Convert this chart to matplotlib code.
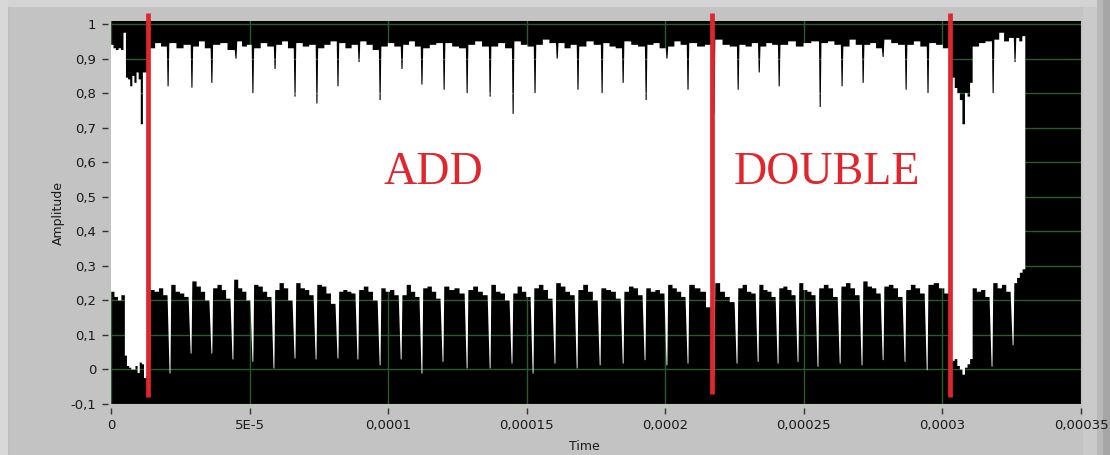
import numpy as np
import matplotlib
matplotlib.use("Agg")
import matplotlib.pyplot as plt
from matplotlib.patches import Rectangle

# ---------------- data (time in microseconds) ----------------
t_end_us = 329.9

# lower edge of the trace: narrow dips (centre, floor value)
low_dip_us = [21.3, 28.9, 36.4, 44.0, 51.2, 58.8, 66.4, 74.0, 81.9, 89.1, 97.1, 104.7,
              112.2, 119.8, 128.5, 136.8, 144.7, 152.3, 160.2, 168.2, 176.5, 184.8, 192.7,
              200.6, 208.2, 217.6, 225.9, 233.5, 240.7, 247.9, 255.1, 263.1, 271.0, 278.6,
              286.5, 294.5, 317.9, 325.5]
low_dip_val = [-0.012, 0.046, 0.046, 0.029, 0.022, 0.003, 0.032, 0.029, 0.032, 0.029, 0.012, 0.029,
               -0.012, 0.022, 0.003, 0.003, 0.017, -0.012, 0.017, 0.003, 0.012, 0.017, 0.027,
               0.012, 0.017, -0.02, 0.017, 0.022, 0.017, 0.022, 0.008, 0.017, 0.012, 0.027,
               0.022, -0.002, 0.008, 0.07]
# stretches where the lower edge sits near zero
low_floor_us = [(5.0, 14.2), (302.6, 310.9)]
low_floor_val = [[0.04, 0.01, 0.005, 0.0, 0.0, 0.01, -0.01, 0.02, 0.015, -0.025, -0.02, 0.02],
                 [0.02, 0.025, 0.03, 0.01, 0.0, -0.015, 0.005, 0.015, 0.03]]
# level of the lower edge on each stretch between the features above
low_level = [
    [0.225, 0.21, 0.2, 0.215],
    [0.23, 0.225, 0.235, 0.215],
    [0.245, 0.225, 0.22, 0.21],
    [0.255, 0.24, 0.225, 0.2],
    [0.235, 0.245, 0.23, 0.205],
    [0.26, 0.235, 0.225, 0.2],
    [0.245, 0.24, 0.225, 0.21],
    [0.23, 0.25, 0.235, 0.2],
    [0.25, 0.235, 0.23, 0.215],
    [0.245, 0.24, 0.22, 0.19],
    [0.225, 0.23, 0.225, 0.22],
    [0.23, 0.24, 0.225, 0.2],
    [0.235, 0.225, 0.23, 0.215],
    [0.215, 0.245, 0.225, 0.21],
    [0.235, 0.24, 0.225, 0.205],
    [0.24, 0.23, 0.235, 0.22],
    [0.23, 0.24, 0.225, 0.215],
    [0.245, 0.225, 0.22, 0.2],
    [0.22, 0.24, 0.225, 0.21],
    [0.235, 0.245, 0.23, 0.205],
    [0.25, 0.24, 0.225, 0.215],
    [0.23, 0.245, 0.225, 0.2],
    [0.235, 0.23, 0.225, 0.205],
    [0.225, 0.24, 0.235, 0.215],
    [0.235, 0.225, 0.23, 0.22],
    [0.245, 0.235, 0.225, 0.21],
    [0.245, 0.235, 0.225, 0.18],
    [0.25, 0.225, 0.21, 0.195],
    [0.235, 0.245, 0.225, 0.22],
    [0.245, 0.23, 0.225, 0.21],
    [0.235, 0.24, 0.23, 0.215],
    [0.25, 0.23, 0.225, 0.215],
    [0.235, 0.245, 0.235, 0.21],
    [0.24, 0.25, 0.235, 0.215],
    [0.255, 0.24, 0.235, 0.22],
    [0.24, 0.245, 0.235, 0.21],
    [0.23, 0.245, 0.235, 0.22],
    [0.245, 0.25, 0.235, 0.22],
    [0.235, 0.225, 0.23, 0.21],
    [0.25, 0.235, 0.245, 0.225],
    [0.25, 0.265, 0.28, 0.29],
]

# upper edge of the trace: narrow downward spikes (centre, value)
up_spike_us = [20.6, 29.2, 36.4, 45.1, 51.2, 59.2, 66.4, 74.3, 81.9, 89.5,
               97.1, 105.0, 112.2, 120.2, 128.5, 136.8, 145.1, 153.0, 161.0, 168.5,
               177.2, 184.8, 193.1, 200.6, 208.2, 217.6, 226.3, 233.9, 241.1, 255.9,
               263.8, 271.4, 278.6, 286.9, 294.8, 318.3, 326.2]
up_spike_val = [0.82, 0.816, 0.83, 0.90, 0.80, 0.87, 0.79, 0.77, 0.82, 0.89,
                0.78, 0.87, 0.825, 0.81, 0.80, 0.79, 0.74, 0.80, 0.90, 0.81,
                0.80, 0.83, 0.78, 0.90, 0.81, 0.74, 0.81, 0.86, 0.82, 0.76,
                0.82, 0.83, 0.905, 0.81, 0.80, 0.80, 0.89]
# stretches where the upper edge sags
up_sag_us = [(5.4, 13.8), (302.6, 310.9)]
up_sag_val = [[0.845, 0.84, 0.82, 0.85, 0.83, 0.86, 0.84, 0.71, 0.86, 0.86, 0.85],
              [0.83, 0.845, 0.815, 0.80, 0.78, 0.71, 0.80, 0.79, 0.83]]
up_level = [
    [0.94, 0.93, 0.925, 0.93, 0.925, 0.975],
    [0.93, 0.945, 0.935],
    [0.945, 0.93, 0.94],
    [0.935, 0.95, 0.93],
    [0.94, 0.945, 0.925],
    [0.95, 0.935, 0.94],
    [0.93, 0.945, 0.935],
    [0.94, 0.95, 0.93],
    [0.945, 0.935, 0.94],
    [0.93, 0.94, 0.95],
    [0.945, 0.93, 0.94],
    [0.95, 0.94, 0.925],
    [0.935, 0.945, 0.935],
    [0.94, 0.95, 0.935],
    [0.93, 0.94, 0.945],
    [0.945, 0.935, 0.93],
    [0.94, 0.95, 0.935],
    [0.935, 0.945, 0.93],
    [0.95, 0.94, 0.935],
    [0.94, 0.955, 0.945],
    [0.945, 0.93, 0.94],
    [0.935, 0.95, 0.94],
    [0.945, 0.935, 0.93],
    [0.95, 0.94, 0.935],
    [0.94, 0.945, 0.93],
    [0.935, 0.95, 0.94],
    [0.945, 0.935, 0.94],
    [0.955, 0.94, 0.935],
    [0.94, 0.935, 0.945],
    [0.935, 0.945, 0.94],
    [0.94, 0.95, 0.935, 0.945, 0.95],
    [0.945, 0.95, 0.94],
    [0.935, 0.955, 0.94],
    [0.94, 0.945, 0.93],
    [0.955, 0.945, 0.94],
    [0.94, 0.95, 0.935],
    [0.945, 0.94, 0.93],
    [0.935, 0.945, 0.95],
    [0.955, 0.975, 0.95, 0.96],
    [0.96, 0.95, 0.965],
]

# marker lines and annotations
marker_us = [13.2, 216.7, 302.6]
marker_low = [-0.081, -0.07, -0.08]
marker_high = 1.033
notes = ["ADD", "DOUBLE"]
note_us = [116.2, 258.4]
note_y = 0.537

x_ticks = [0, 5e-5, 1e-4, 1.5e-4, 2e-4, 2.5e-4, 3e-4, 3.5e-4]
x_tick_labels = ["0", "5E-5", "0,0001", "0,00015", "0,0002", "0,00025", "0,0003", "0,00035"]
y_ticks = [-0.1, 0.0, 0.1, 0.2, 0.3, 0.4, 0.5, 0.6, 0.7, 0.8, 0.9, 1.0]
y_tick_labels = ["-0,1", "0", "0,1", "0,2", "0,3", "0,4", "0,5", "0,6", "0,7", "0,8", "0,9", "1"]


# ---------------- edge construction ----------------
def steps(a, b, vals):
    n = len(vals)
    pts = []
    for i, v in enumerate(vals):
        pts.append((a + (b - a) * i / n, v))
        pts.append((a + (b - a) * (i + 1) / n, v))
    return pts


def notch(c, v, left, right, tip):
    return (c - left, c + right, [(c - tip, v), (c + tip, v)])


def span(a, b, vals):
    return (a, b, steps(a, b, vals))


def build_edge(events, levels, t_end):
    events = sorted(events, key=lambda e: e[0])
    assert len(levels) == len(events) + 1
    bounds = [0.0]
    for s, e, _ in events:
        bounds += [s, e]
    bounds.append(t_end)
    pts = []
    for k, lev in enumerate(levels):
        pts += steps(bounds[2 * k], bounds[2 * k + 1], lev)
        if k < len(events):
            pts += events[k][2]
    xs = np.array([p[0] for p in pts])
    ys = np.array([p[1] for p in pts])
    return xs, ys


low_events = [notch(c, v, 0.9, 0.45, 0.15) for c, v in zip(low_dip_us, low_dip_val)]
low_events += [span(a, b, vals) for (a, b), vals in zip(low_floor_us, low_floor_val)]
up_events = [notch(c, v, 0.45, 0.45, 0.2) for c, v in zip(up_spike_us, up_spike_val)]
up_events += [span(a, b, vals) for (a, b), vals in zip(up_sag_us, up_sag_val)]

lx, ly = build_edge(low_events, low_level, t_end_us)
ux, uy = build_edge(up_events, up_level, t_end_us)

poly_x = np.concatenate([ux, lx[::-1]]) * 1e-6
poly_y = np.concatenate([uy, ly[::-1]])

# ---------------- figure ----------------
W, H = 1110, 455
fig = plt.figure(figsize=(W / 100, H / 100), dpi=100)
fig.patch.set_facecolor("#c3c3c3")


def frect(x0, y0, x1, y1, color):
    fig.patches.append(Rectangle((x0 / W, 1 - y1 / H), (x1 - x0) / W, (y1 - y0) / H,
                                 transform=fig.transFigure, facecolor=color,
                                 edgecolor="none", zorder=-10))


# bevelled panel frame
frect(0, 0, W, 7, "#d3d3d3")
frect(0, 0, 8, H, "#d8d8d8")
frect(8, 7, 10, H, "#bdbdbd")
frect(1083, 7, 1097, H, "#cacaca")
frect(1097, 0, 1103, H, "#b8b8b8")
frect(1103, 0, W, H, "#a6a6a6")

ax = fig.add_axes([111 / W, 1 - 404 / H, 970 / W, 383 / H])
ax.set_zorder(1)
ax.set_facecolor("black")
ax.set_xlim(0, 3.5e-4)
ax.set_ylim(-0.1, 1.009)

ax.set_axisbelow(True)
ax.grid(True, color="#2c5a2c", linewidth=1.0)

ax.fill(poly_x, poly_y, color="white", linewidth=0, zorder=2)

for t, lo in zip(marker_us, marker_low):
    ax.plot([t * 1e-6, t * 1e-6], [lo, marker_high], color="#e0262c", linewidth=3.4,
            solid_capstyle="butt", clip_on=False, zorder=5)

for txt, t in zip(notes, note_us):
    ax.text(t * 1e-6, note_y, txt, ha="center", va="baseline", fontsize=33,
            family="Liberation Serif", color="#e0262c", zorder=6)

ax.set_xticks(x_ticks)
ax.set_xticklabels(x_tick_labels)
ax.set_yticks(y_ticks)
ax.set_yticklabels(y_tick_labels)
for side in ["top", "right", "left", "bottom"]:
    ax.spines[side].set_visible(False)
ax.spines["left"].set_position(("outward", 2.5))
ax.spines["bottom"].set_position(("outward", 3.0))
ax.tick_params(direction="out", length=4, width=1, color="#333333",
               labelsize=9.5, labelcolor="#1a1a1a", pad=4, labelfontfamily="DejaVu Sans")

fig.text(58 / W, 1 - 213 / H, "Amplitude", rotation=90, ha="center", va="center",
         fontsize=9, color="#1a1a1a", family="DejaVu Sans")
fig.text(584 / W, 1 - 446 / H, "Time", ha="center", va="center",
         fontsize=9, color="#1a1a1a", family="DejaVu Sans")

fig.savefig("out.png", dpi=100, facecolor=fig.get_facecolor())
